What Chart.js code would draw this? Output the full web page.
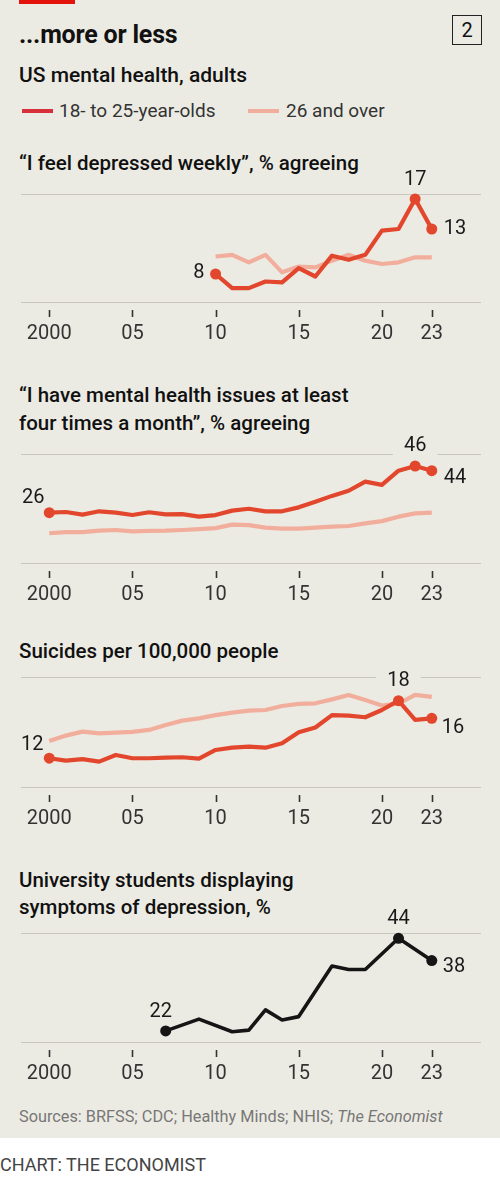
<!DOCTYPE html>
<html><head><meta charset="utf-8">
<script src="https://cdn.jsdelivr.net/npm/chart.js@4.4.0/dist/chart.umd.min.js"></script>
<style>
html,body{margin:0;padding:0;}
body{width:500px;height:1179px;background:#fff;position:relative;overflow:hidden;font-family:Roboto,"Noto Sans",sans-serif;}
#panel{position:absolute;left:0;top:0;width:500px;height:1138px;background:#ECEBE3;}
.t{position:absolute;white-space:nowrap;}
.h{font-size:20.5px;font-weight:500;color:#111;line-height:24px;}
.cw{position:absolute;left:0;width:500px;}
</style>
</head><body>
<div id="panel"></div>
<div style="position:absolute;left:19px;top:0;width:56px;height:4px;background:#E3120B;"></div>
<div class="t" style="left:19px;top:20px;line-height:30px;font-size:25px;font-weight:700;color:#111;letter-spacing:-0.2px;">...more or less</div>
<div style="position:absolute;left:452px;top:15px;width:28px;height:28px;border:1.5px solid #222;text-align:center;line-height:28px;font-size:20px;color:#111;">2</div>
<div class="t" style="left:19px;top:63px;line-height:24px;font-size:21px;font-weight:500;color:#111;">US mental health, adults</div>
<div style="position:absolute;left:22px;top:109px;width:31px;height:4px;background:#D7303B;"></div>
<div class="t" style="left:59px;top:99px;line-height:24px;font-size:19px;color:#333;">18- to 25-year-olds</div>
<div style="position:absolute;left:248px;top:109px;width:31px;height:4px;background:#F2AE9C;"></div>
<div class="t" style="left:286px;top:99px;line-height:24px;font-size:19px;color:#333;">26 and over</div>

<div class="t h" style="left:19px;top:151px;">“I feel depressed weekly”, % agreeing</div>
<div class="t h" style="left:19px;top:383px;">“I have mental health issues at least</div>
<div class="t h" style="left:19px;top:411px;">four times a month”, % agreeing</div>
<div class="t h" style="left:19px;top:639px;">Suicides per 100,000 people</div>
<div class="t h" style="left:19px;top:868px;">University students displaying</div>
<div class="t h" style="left:19px;top:895px;">symptoms of depression, %</div>

<div class="t" style="left:19px;top:1106px;line-height:22px;font-size:16.3px;color:#777;">Sources: BRFSS; CDC; Healthy Minds; NHIS; <i>The Economist</i></div>
<div class="t" style="left:0;top:1154px;line-height:22px;font-size:18px;color:#444;">CHART: THE ECONOMIST</div>

<div class="cw" id="w1"><canvas id="c1"></canvas></div>
<div class="cw" id="w2"><canvas id="c2"></canvas></div>
<div class="cw" id="w3"><canvas id="c3"></canvas></div>
<div class="cw" id="w4"><canvas id="c4"></canvas></div>

<script>
// ---------- DATA ----------
const xTickValues = [2000, 2005, 2010, 2015, 2020, 2023];

// Panel 1: "I feel depressed weekly", % agreeing
const depYears = [2010,2011,2012,2013,2014,2015,2016,2017,2018,2019,2020,2021,2022,2023];
const dep18to25 = [8.0, 6.3, 6.3, 7.1, 7.0, 8.7, 7.7, 10.2, 9.7, 10.3, 13.2, 13.4, 17.0, 13.4];
const dep26plus = [10.1, 10.3, 9.4, 10.3, 8.2, 8.9, 8.8, 9.6, 10.3, 9.6, 9.2, 9.4, 10.0, 10.0];
const depLabelIdx = [0, 12, 13];
const depLabelText = ['8', '17', '13'];

// Panel 2: mental health issues at least four times a month, % agreeing
const mhYears = [2000,2001,2002,2003,2004,2005,2006,2007,2008,2009,2010,2011,2012,2013,2014,2015,2016,2017,2018,2019,2020,2021,2022,2023];
const mh18to25 = [26.0, 26.3, 25.2, 26.6, 26.0, 25.0, 26.2, 25.3, 25.4, 24.3, 25.0, 26.9, 27.7, 26.6, 26.6, 28.3, 30.7, 33.2, 35.4, 39.3, 37.9, 44.0, 46.0, 44.0];
const mh26plus = [17.2, 17.7, 17.7, 18.3, 18.6, 18.0, 18.2, 18.3, 18.6, 19.0, 19.4, 20.9, 20.7, 19.6, 19.2, 19.2, 19.6, 20.0, 20.3, 21.4, 22.4, 24.3, 25.7, 26.0];
const mhLabelIdx = [0, 22, 23];
const mhLabelText = ['26', '46', '44'];

// Panel 3: Suicides per 100,000 people
const suYears = [2000,2001,2002,2003,2004,2005,2006,2007,2008,2009,2010,2011,2012,2013,2014,2015,2016,2017,2018,2019,2020,2021,2022,2023];
const su18to25 = [12.0, 11.75, 11.9, 11.65, 12.34, 12.0, 12.0, 12.07, 12.1, 11.96, 12.86, 13.1, 13.2, 13.1, 13.56, 14.7, 15.2, 16.5, 16.44, 16.27, 17.03, 18.0, 16.0, 16.16];
const su26plus = [13.8, 14.36, 14.77, 14.6, 14.67, 14.74, 14.95, 15.47, 15.92, 16.16, 16.5, 16.75, 16.96, 17.03, 17.45, 17.66, 17.73, 18.14, 18.6, 18.07, 17.5, 17.7, 18.6, 18.4];
const suLabelIdx = [0, 21, 23];
const suLabelText = ['12', '18', '16'];

// Panel 4: University students displaying symptoms of depression, %
const uniYears = [2007, 2009, 2011, 2012, 2013, 2014, 2015, 2017, 2018, 2019, 2021, 2023];
const uniDepression = [22.0, 24.8, 21.8, 22.2, 27.0, 24.6, 25.4, 37.4, 36.6, 36.6, 44.0, 38.7];
const uniLabelIdx = [0, 10, 11];
const uniLabelText = ['22', '44', '38'];

// ---------- STYLE ----------
const BG = '#ECEBE3';
const RED = '#E2472D';
const PINK = '#F2AE9C';
const BLACK = '#151515';
const FONT = 'Roboto, "Noto Sans", sans-serif';

function pts(xs, ys){ return xs.map((x,i)=>({x:x, y:ys[i]})); }

const decor = {
  id: 'decor',
  afterDatasetsDraw(chart, args, opts) {
    const ctx = chart.ctx;
    const meta = chart.getDatasetMeta(0);
    const yScale = chart.scales.y;
    const gridYs = [yScale.getPixelForValue(yScale.min), yScale.getPixelForValue(yScale.max)];
    ctx.save();
    ctx.font = '20px ' + FONT;
    ctx.textBaseline = 'middle';
    (opts.labels || []).forEach((lb, k) => {
      const el = meta.data[lb.i];
      const pl = opts.place[k];
      const x = el.x + pl[0], y = el.y + pl[1];
      const w = ctx.measureText(lb.text).width;
      let x0 = pl[2] === 'right' ? x - w : (pl[2] === 'left' ? x : x - w/2);
      const top = y - 9, bot = y + 9;
      if (gridYs.some(g => g > top - 2 && g < bot + 2)) {
        ctx.fillStyle = BG;
        ctx.fillRect(x0 - 11, top - 2, w + 22, bot - top + 4);
      }
      ctx.fillStyle = '#1a1a1a';
      ctx.textAlign = pl[2];
      ctx.fillText(lb.text, x, y);
    });
    ctx.restore();
  },
  afterDraw(chart) {
    const ctx = chart.ctx;
    const xs = chart.scales.x;
    const b = chart.chartArea.bottom;
    ctx.save();
    ctx.strokeStyle = '#333';
    ctx.lineWidth = 1.6;
    xTickValues.forEach(v => {
      const x = Math.round(xs.getPixelForValue(v)) + 0.5;
      ctx.beginPath(); ctx.moveTo(x, b + 8); ctx.lineTo(x, b + 15); ctx.stroke();
    });
    ctx.restore();
  }
};

function makeChart(n, gridTop, gridBottom, yMin, yMax, datasets, labels, place) {
  const padTop = 32, axisH = 45, padBottom = 2;
  const wrap = document.getElementById('w' + n);
  wrap.style.top = (gridTop - padTop) + 'px';
  wrap.style.height = (padTop + (gridBottom - gridTop) + axisH + padBottom) + 'px';
  return new Chart(document.getElementById('c' + n), {
    type: 'line',
    data: { datasets: datasets },
    options: {
      responsive: true, maintainAspectRatio: false, animation: false,
      layout: { padding: { left: 21, right: 19, top: padTop, bottom: padBottom } },
      plugins: { legend: { display: false }, tooltip: { enabled: false },
        decor: { labels: labels, place: place } },
      scales: {
        x: {
          type: 'linear', min: 1998.3, max: 2025.96,
          grid: { display: false, drawTicks: false }, border: { display: false },
          afterBuildTicks: s => { s.ticks = xTickValues.map(v => ({ value: v })); },
          afterFit: s => { s.height = axisH; },
          ticks: { padding: 20, color: '#333', autoSkip: false, maxRotation: 0,
            font: { family: FONT, size: 20 },
            callback: v => v === 2000 ? '2000' : String(v).slice(2) }
        },
        y: {
          min: yMin, max: yMax,
          grid: { color: '#C9C6BB', lineWidth: 1, drawTicks: false }, border: { display: false },
          afterBuildTicks: s => { s.ticks = [{ value: yMin }, { value: yMax }]; },
          ticks: { display: false }
        }
      }
    },
    plugins: [decor]
  });
}

function lineDs(data, color, width, idx) {
  return {
    data: data, borderColor: color, backgroundColor: color, borderWidth: width,
    borderJoinStyle: 'round', tension: 0, fill: false, clip: false,
    pointRadius: ctx => (idx && idx.includes(ctx.dataIndex)) ? 5.5 : 0,
    pointBorderWidth: 0, pointHoverRadius: 0
  };
}
function lbls(idx, text){ return idx.map((i,k)=>({i:i, text:text[k]})); }

makeChart(1, 194, 302, 4.64, 17.6,
  [lineDs(pts(depYears, dep18to25), RED, 4.2, depLabelIdx), lineDs(pts(depYears, dep26plus), PINK, 4.2, null)],
  lbls(depLabelIdx, depLabelText),
  [[-11, -1, 'right'], [0, -19, 'center'], [12, 0, 'left']]);

makeChart(2, 454, 563, 4.46, 51.14,
  [lineDs(pts(mhYears, mh18to25), RED, 4.2, mhLabelIdx), lineDs(pts(mhYears, mh26plus), PINK, 4.2, null)],
  lbls(mhLabelIdx, mhLabelText),
  [[-16, -15, 'center'], [0, -20, 'center'], [12, 7, 'left']]);

makeChart(3, 677, 787, 9.0, 20.47,
  [lineDs(pts(suYears, su18to25), RED, 4.2, suLabelIdx), lineDs(pts(suYears, su26plus), PINK, 4.2, null)],
  lbls(suLabelIdx, suLabelText),
  [[-17, -13, 'center'], [0, -20, 'center'], [10, 10, 'left']]);

makeChart(4, 933, 1042, 19.37, 45.26,
  [lineDs(pts(uniYears, uniDepression), BLACK, 3.6, uniLabelIdx)],
  lbls(uniLabelIdx, uniLabelText),
  [[-5, -19, 'center'], [0, -19, 'center'], [11, 6, 'left']]);
</script>
</body></html>
